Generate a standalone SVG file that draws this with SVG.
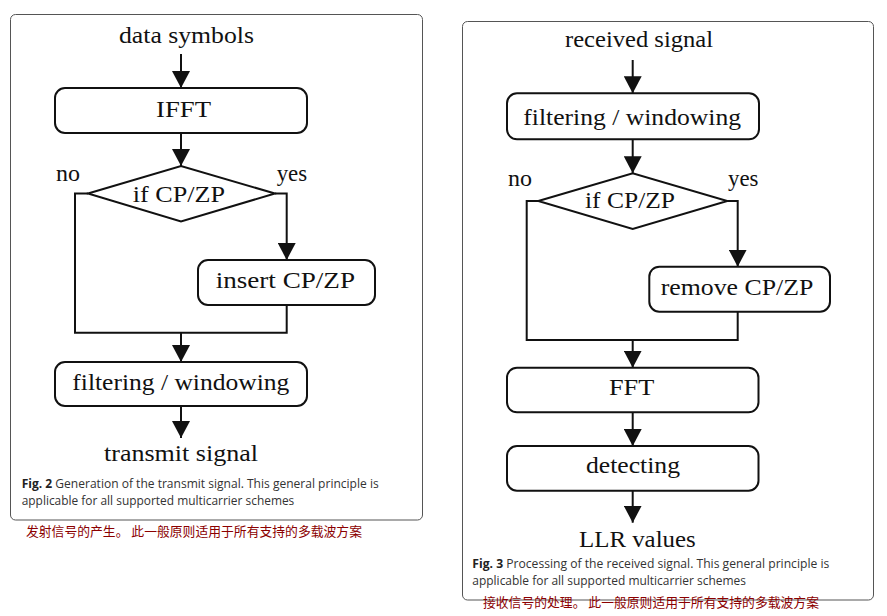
<svg xmlns="http://www.w3.org/2000/svg" width="887" height="616" viewBox="0 0 887 616">
<defs>
<style>
.panel{fill:#fff;stroke:#555;stroke-width:1}
.box{fill:#fff;stroke:#111;stroke-width:2}
.con{fill:none;stroke:#111;stroke-width:2}
.t{font-family:"Liberation Serif","DejaVu Serif",serif;font-size:23px;fill:#111}
.cap{font-family:"Open Sans","Noto Sans","Liberation Sans",sans-serif;font-size:12.5px;fill:#333}
.capb{font-weight:bold;fill:#222}
.zh{font-family:"Noto Sans CJK SC","Noto Sans",sans-serif;font-size:13px;fill:#8b0000}
</style>
<marker id="ah" markerUnits="userSpaceOnUse" markerWidth="18" markerHeight="18" refX="17" refY="9" orient="auto" viewBox="0 0 18 18">
<path d="M0,0 L17,9 L0,18 z" fill="#111"/>
</marker>
</defs>
<rect width="887" height="616" fill="#fff"/>

<!-- left panel -->
<g id="panel-left">
<rect class="panel" x="10.5" y="14.5" width="412" height="505.5" rx="5"/>
<text class="cap" x="21.7" y="488" textLength="357" lengthAdjust="spacingAndGlyphs"><tspan class="capb">Fig. 2</tspan> Generation of the transmit signal. This general principle is</text>
<text class="cap" x="21.7" y="505" textLength="272.6" lengthAdjust="spacingAndGlyphs">applicable for all supported multicarrier schemes</text>
</g>
<text class="zh" x="26" y="535.5" textLength="336" lengthAdjust="spacingAndGlyphs">发射信号的产生。 此一般原则适用于所有支持的多载波方案</text>

<!-- right panel -->
<g id="panel-right">
<rect class="panel" x="462.5" y="21.5" width="411" height="578.5" rx="5"/>
<text class="cap" x="472.3" y="568" textLength="357" lengthAdjust="spacingAndGlyphs"><tspan class="capb">Fig. 3</tspan> Processing of the received signal. This general principle is</text>
<text class="cap" x="472.3" y="585" textLength="273.7" lengthAdjust="spacingAndGlyphs">applicable for all supported multicarrier schemes</text>
</g>
<text class="zh" x="483" y="607" textLength="336" lengthAdjust="spacingAndGlyphs">接收信号的处理。 此一般原则适用于所有支持的多载波方案</text>

<!-- connectors -->
<g id="connectors">
<line class="con" x1="181" y1="54" x2="181" y2="88" marker-end="url(#ah)"/>
<line class="con" x1="181" y1="133" x2="181" y2="166" marker-end="url(#ah)"/>
<path class="con" d="M88,193.5 H75 V332.7 H286.7 V305"/>
<path class="con" d="M275,193.5 H286.7 V260" marker-end="url(#ah)"/>
<line class="con" x1="181" y1="332.7" x2="181" y2="362" marker-end="url(#ah)"/>
<line class="con" x1="181" y1="406" x2="181" y2="438" marker-end="url(#ah)"/>

<line class="con" x1="632.7" y1="60" x2="632.7" y2="93.3" marker-end="url(#ah)"/>
<line class="con" x1="632.7" y1="139.3" x2="632.7" y2="173.3" marker-end="url(#ah)"/>
<path class="con" d="M538.3,201 H526.7 V340 H737.7 V311.7"/>
<path class="con" d="M727.3,201 H737.7 V266.7" marker-end="url(#ah)"/>
<line class="con" x1="632.7" y1="340" x2="632.7" y2="367.7" marker-end="url(#ah)"/>
<line class="con" x1="632.7" y1="412.3" x2="632.7" y2="446" marker-end="url(#ah)"/>
<line class="con" x1="632.7" y1="490.7" x2="632.7" y2="522.7" marker-end="url(#ah)"/>
</g>

<!-- left nodes -->
<g id="data-symbols"><text class="t" x="119" y="42.7" textLength="135" lengthAdjust="spacingAndGlyphs">data symbols</text></g>
<g id="ifft">
<rect class="box" x="55" y="88" width="252" height="45" rx="10"/>
<text class="t" x="156" y="116.7" textLength="55" lengthAdjust="spacingAndGlyphs">IFFT</text>
</g>
<g id="if-cp-zp-tx">
<polygon class="box" points="88,193.5 181,166 275,193.5 181,221.5"/>
<text class="t" x="132.7" y="201.7" textLength="92.3" lengthAdjust="spacingAndGlyphs">if CP/ZP</text>
</g>
<g id="label-no-tx"><text class="t" x="56" y="181" textLength="24" lengthAdjust="spacingAndGlyphs">no</text></g>
<g id="label-yes-tx"><text class="t" x="276.7" y="181" textLength="30.5" lengthAdjust="spacingAndGlyphs">yes</text></g>
<g id="insert-cp-zp">
<rect class="box" x="198" y="260" width="177" height="45" rx="10"/>
<text class="t" x="215.7" y="288.3" textLength="139.3" lengthAdjust="spacingAndGlyphs">insert CP/ZP</text>
</g>
<g id="filtering-tx">
<rect class="box" x="55" y="362" width="252" height="44" rx="10"/>
<text class="t" x="72.3" y="390" textLength="217" lengthAdjust="spacingAndGlyphs">filtering / windowing</text>
</g>
<g id="transmit-signal"><text class="t" x="104" y="460.7" textLength="154" lengthAdjust="spacingAndGlyphs">transmit signal</text></g>

<!-- right nodes -->
<g id="received-signal"><text class="t" x="565" y="46.7" textLength="148" lengthAdjust="spacingAndGlyphs">received signal</text></g>
<g id="filtering-rx">
<rect class="box" x="507" y="93.3" width="252" height="46" rx="10"/>
<text class="t" x="523.3" y="125" textLength="217.7" lengthAdjust="spacingAndGlyphs">filtering / windowing</text>
</g>
<g id="if-cp-zp-rx">
<polygon class="box" points="538.3,201 632.7,173.3 727.3,201 632.7,229"/>
<text class="t" x="585" y="208.3" textLength="90" lengthAdjust="spacingAndGlyphs">if CP/ZP</text>
</g>
<g id="label-no-rx"><text class="t" x="508" y="186" textLength="24" lengthAdjust="spacingAndGlyphs">no</text></g>
<g id="label-yes-rx"><text class="t" x="728" y="186" textLength="30.5" lengthAdjust="spacingAndGlyphs">yes</text></g>
<g id="remove-cp-zp">
<rect class="box" x="649.3" y="266.7" width="180.7" height="45" rx="10"/>
<text class="t" x="660.7" y="295" textLength="152.6" lengthAdjust="spacingAndGlyphs">remove CP/ZP</text>
</g>
<g id="fft">
<rect class="box" x="507" y="367.7" width="251.5" height="44.6" rx="10"/>
<text class="t" x="609" y="395" textLength="45.3" lengthAdjust="spacingAndGlyphs">FFT</text>
</g>
<g id="detecting">
<rect class="box" x="507" y="446" width="251.5" height="44.7" rx="10"/>
<text class="t" x="586" y="473.3" textLength="94" lengthAdjust="spacingAndGlyphs">detecting</text>
</g>
<g id="llr-values"><text class="t" x="579" y="546.7" textLength="116.7" lengthAdjust="spacingAndGlyphs">LLR values</text></g>
</svg>
